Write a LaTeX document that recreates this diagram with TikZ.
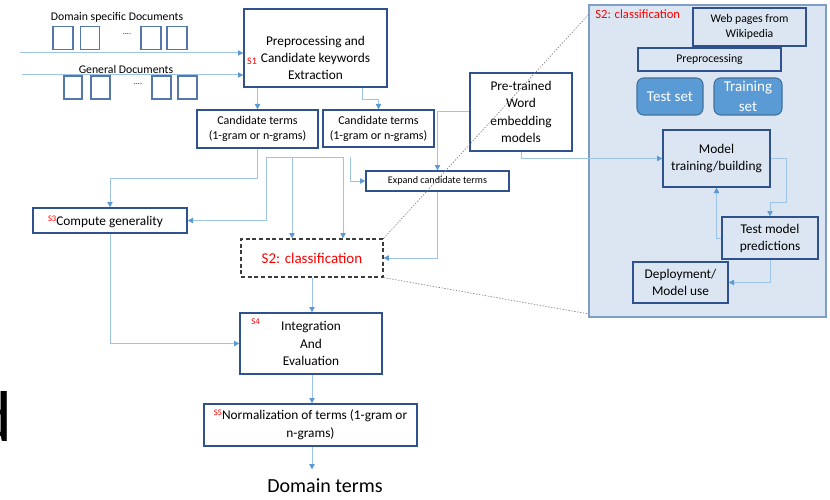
\documentclass[tikz,border=0pt]{standalone}
\usepackage{fontspec}
\setmainfont{Carlito}
\usetikzlibrary{arrows.meta,calc}
\definecolor{bdr}{RGB}{47,82,143}
\definecolor{docb}{RGB}{84,120,170}
\definecolor{ln}{RGB}{157,195,230}
\definecolor{tip}{RGB}{91,155,213}
\definecolor{panelfill}{RGB}{220,230,242}
\definecolor{panelbdr}{RGB}{126,157,201}
\definecolor{setfill}{RGB}{91,155,213}
\definecolor{setbdr}{RGB}{65,113,156}
\definecolor{dashc}{RGB}{60,60,60}
\newcommand\fsz[2]{\fontsize{#1pt}{#2pt}\selectfont}
\begin{document}
\begin{tikzpicture}[x=0.75pt,y=-0.75pt,
  box/.style={draw=bdr,line width=1pt,fill=white,inner sep=0pt,align=center},
  pbox/.style={draw=bdr,line width=1pt,fill=panelfill,inner sep=0pt,align=center},
  setbox/.style={draw=setbdr,line width=0.8pt,fill=setfill,text=white,rounded corners=5pt,inner sep=0pt,align=center},
  wh/.style 2 args={minimum width=#1*0.75pt,minimum height=#2*0.75pt},
  doc/.style={draw=docb,line width=0.8pt,fill=white,inner sep=0pt},
  arr/.style={draw=ln,line width=0.75pt,-{Triangle[length=4pt,width=4pt,color=tip]}},
  dots/.style={draw=gray,line width=0.5pt,dash pattern=on 1pt off 1.2pt},
  lbl/.style={inner sep=0pt,align=center},
  redlbl/.style={inner sep=0pt,text=red}
]
\useasboundingbox (0,0) rectangle (830,499);

% big partial letter at left edge
\begin{scope}
\clip (0,0) rectangle (830,499);
\node[anchor=base east,inner sep=0pt,font=\fsz{54}{54}] (bigd) at (13,441) {d};
\end{scope}

% panel
\node[draw=panelbdr,fill=panelfill,line width=1.2pt,inner sep=0pt,wh={237}{312}] (panel) at (707.5,161) {};
\coordinate (pa) at (589,14);
\coordinate (pb) at (589,314);

% documents
\node[lbl,font=\fsz{8.8}{10}] (dsd) at (117,17) {Domain specific Documents};
\node[lbl,font=\fsz{8.8}{10}] (gd) at (126,69) {General Documents};
\node[doc,wh={20}{23}] (d1) at (63,38) {};
\node[doc,wh={19}{23}] (d2) at (90,38) {};
\node[doc,wh={20}{23}] (d3) at (151,38) {};
\node[doc,wh={20}{23}] (d4) at (177,38) {};
\node[doc,wh={18}{23}] (d5) at (73,87.5) {};
\node[doc,wh={19}{23}] (d6) at (100.5,87.5) {};
\node[doc,wh={19}{23}] (d7) at (161.5,87.5) {};
\node[doc,wh={19}{23}] (d8) at (187.5,87.5) {};
\node[lbl,font=\fsz{6}{6}] (el1) at (127,34) {....};
\node[lbl,font=\fsz{6}{6}] (el2) at (138,84) {....};

% main boxes
\node[box,wh={143}{78}] (s1) at (315.5,48) {};
\node[lbl,font=\fsz{10}{12.75}] (s1t) at (315.5,57.5) {Preprocessing and\\Candidate keywords\\Extraction};
\node[redlbl,font=\fsz{7.5}{8}] (s1l) at (252,61.5) {S1};

\node[box,wh={121}{38},font=\fsz{9}{11.25}] (c1) at (257.5,129) {Candidate terms\\(1-gram or n-grams)};
\node[box,wh={111}{37},font=\fsz{9}{11.25}] (c2) at (378.5,128.5) {Candidate terms\\(1-gram or n-grams)};
\node[box,wh={102}{78},font=\fsz{10}{13.2}] (pt) at (521,112) {Pre-trained\\Word\\embedding\\models};
\node[box,wh={143}{20},font=\fsz{7.6}{9}] (ex) at (437.5,181) {Expand candidate terms};

\node[box,wh={154}{25}] (cg) at (110,220.5) {};
\node[lbl,font=\fsz{10}{12}] (cgt) at (105.5,221.5) {\textcolor{red}{\raisebox{3pt}{\fsz{6.4}{7}S3}}Compute generality};

\node[box,draw=dashc,dash pattern=on 3pt off 2pt,line width=0.9pt,wh={142}{38},text=red,font=\fsz{11.25}{13}] (s2) at (312,258) {S2: classification};

\node[box,wh={142}{61},font=\fsz{10}{13.1}] (int) at (311,343.5) {Integration\\And\\Evaluation};
\node[redlbl,font=\fsz{6.6}{7}] (s4l) at (255.5,322) {S4};

\node[box,wh={213}{42},font=\fsz{10}{13.5}] (nm) at (310.5,425) {\textcolor{red}{\raisebox{3pt}{\fsz{6.4}{7}S5}}Normalization of terms (1-gram or\\n-grams)};

\node[lbl,inner ysep=7pt,font=\fsz{15}{16}] (dt) at (325,486) {Domain terms};

% panel contents
\node[redlbl,anchor=west,font=\fsz{9.5}{10}] (ptitle) at (595,14.5) {S2: classification};
\node[pbox,wh={113}{38},font=\fsz{8.8}{11.25}] (wp) at (749.5,27) {Web pages from\\Wikipedia};
\node[pbox,wh={143}{23},font=\fsz{8.8}{10}] (pp) at (709.5,59.5) {Preprocessing};
\node[setbox,wh={66}{37},font=\fsz{11.3}{15}] (ts) at (670,96.5) {Test set};
\node[setbox,wh={68}{37},font=\fsz{11.3}{15}] (trs) at (748,96.5) {Training\\set};
\node[pbox,wh={107}{57},font=\fsz{10}{12.75}] (mdl) at (716.5,158.5) {Model\\training/building};
\node[pbox,wh={96}{42},font=\fsz{10}{12.75}] (tmp) at (770,238) {Test model\\predictions};
\node[pbox,wh={95}{41},font=\fsz{10}{12.75}] (dep) at (680.5,282.5) {Deployment/\\Model use};

% dotted zoom lines
\draw[dots] (s2.north east) -- (pa);
\draw[dots] (s2.south east) -- (pb);

% connectors
\coordinate (in1) at (20,53);
\coordinate (in2) at (22,75);
\draw[arr] (in1) -- (in1 -| s1.west);
\draw[arr] (in2) -- (in2 -| s1.west);
\draw[arr] (c1.north |- s1.south) -- (c1.north);
\draw[arr] ([xshift=35.6pt]s1.south) -- ++(0,12) -| (c2.north);
\draw[arr] (c1.south) -- ++(0,30) -| (cg.north);
\coordinate (bl) at (266,157);
\coordinate (bm) at (292,157);
\coordinate (br) at (343,157);
\draw[arr] (br) -- (bl) |- (cg.east);
\draw[arr] (bm) -- (bm |- s2.north);
\draw[arr] (br) -- (br |- s2.north);
\coordinate (cx) at (350,157);
\draw[arr] (cx) |- (ex.west);
\draw[arr] (pt.west) -| (ex.north);
\draw[arr] (pt.south) |- (mdl.west);
\draw[arr] (ex.south) |- (s2.east);
\draw[arr] (s2.south) -- (s2.south |- int.north);
\draw[arr] (cg.south) |- (int.west);
\draw[arr] (int.south -| s2.south) -- (s2.south |- nm.north);
\draw[arr] (nm.south -| s2.south) -- (s2.south |- dt.north);
\draw[arr] (mdl.east) -- ++(16,0) -- ++(0,44) -| (tmp.north);
\draw[arr] (tmp.west) -| (mdl.south);
\draw[arr] (tmp.south) |- (dep.east);
\end{tikzpicture}
\end{document}
